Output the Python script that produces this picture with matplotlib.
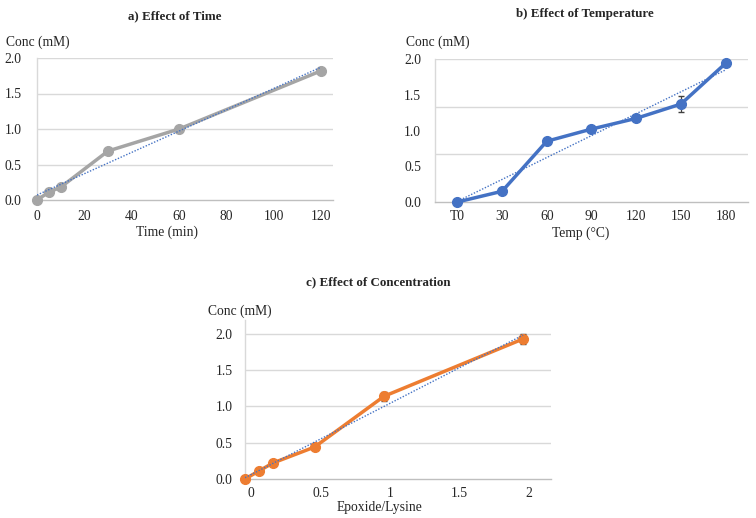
import numpy as np
import matplotlib
matplotlib.use("Agg")
import matplotlib.pyplot as plt
from matplotlib.transforms import ScaledTranslation

# ---------------- data ----------------
time_min = [0, 5, 10, 30, 60, 120]
conc_time = [0.0, 0.11, 0.18, 0.69, 1.00, 1.82]

temp_labels = ["T0", "30", "60", "90", "120", "150", "180"]
conc_temp = [0.0, 0.15, 0.85, 1.02, 1.17, 1.37, 1.94]
err_temp = [0, 0, 0, 0, 0, 0.11, 0]

ratio = [0.0, 0.1, 0.2, 0.5, 1.0, 2.0]
conc_ratio = [0.0, 0.11, 0.22, 0.44, 1.14, 1.93]
err_ratio = [0, 0, 0, 0, 0.06, 0.07]

y_ticks = [0.0, 0.5, 1.0, 1.5, 2.0]
y_ticklabels = ["0.0", "0.5", "1.0", "1.5", "2.0"]

# ---------------- style ----------------
plt.rcParams['font.family'] = ['Liberation Serif', 'DejaVu Serif']
FS = 9.8
TFS = 9.4
GRID = "#D9D9D9"
AXIS = "#BFBFBF"
GRAY = "#A5A5A5"
BLUE = "#4472C4"
ORANGE = "#ED7D31"
TXT = "#262626"

W, H = 756, 518
fig = plt.figure(figsize=(W / 100, H / 100), dpi=100)


def add_ax(left, top, right, bottom):
    return fig.add_axes([left / W, 1 - bottom / H, (right - left) / W, (bottom - top) / H])


def style(ax, ypad, xpad):
    for s in ["top", "right"]:
        ax.spines[s].set_visible(False)
    ax.spines["left"].set_color(GRID)
    ax.spines["left"].set_linewidth(1.0)
    ax.spines["bottom"].set_color(AXIS)
    ax.spines["bottom"].set_linewidth(1.0)
    ax.tick_params(length=0, labelsize=FS, colors=TXT)
    ax.tick_params(axis="x", pad=xpad)
    ax.tick_params(axis="y", pad=ypad)
    ax.set_facecolor("white")


def trend(ax, x, y, xr):
    k, b = np.polyfit(x, y, 1)
    xs = np.array(xr)
    ax.plot(xs, k * xs + b, linestyle=(0, (1, 1.2)), color=BLUE, lw=1.0, zorder=4)


def ftext(x, y, s, size=FS, **kw):
    fig.text(x / W, 1 - y / H, s, fontsize=size, color=TXT, **kw)


# ---------------- a) time ----------------
ax = add_ax(37, 58, 333, 200)
style(ax, 11, 7.5)
ax.set_xlim(0, 125)
ax.set_ylim(0, 2.0)
ax.set_xticks([0, 20, 40, 60, 80, 100, 120])
ax.set_yticks(y_ticks)
ax.set_yticklabels(y_ticklabels)
for v in [0.5, 1.0, 1.5, 2.0]:
    ax.axhline(v, color=GRID, lw=1.0, zorder=0)
ax.plot(time_min, conc_time, color=GRAY, lw=2.5, marker="o", ms=7,
        zorder=3, clip_on=False)
trend(ax, time_min, conc_time, [0, 120])

ftext(175, 16, "a) Effect of Time", size=TFS, ha="center", va="center", fontweight="bold")
ftext(6, 42, "Conc (mM)", ha="left", va="center")
ftext(167, 232, "Time (min)", ha="center", va="center")

# ---------------- b) temperature ----------------
ax = add_ax(435, 59, 748, 202)
style(ax, 10, 6)
xb = np.arange(len(temp_labels))
ax.set_xlim(-0.5, len(temp_labels) - 0.5)
ax.set_ylim(0, 2.0)
ax.set_xticks(xb)
ax.set_xticklabels(temp_labels)
ax.set_yticks(y_ticks)
ax.set_yticklabels(y_ticklabels)
for v in [2 / 3, 4 / 3, 2.0]:
    ax.axhline(v, color=GRID, lw=1.0, zorder=0)
ax.errorbar(xb, conc_temp, yerr=err_temp, color=BLUE, lw=2.5, marker="o", ms=7,
            ecolor="#404040", elinewidth=0.9, capsize=2.5, zorder=3, clip_on=False)
trend(ax, xb, conc_temp, [0, 6])

ftext(585, 14, "b) Effect of Temperature", size=TFS, ha="center", va="center", fontweight="bold")
ftext(406, 42, "Conc (mM)", ha="left", va="center")
ftext(581, 233, "Temp (°C)", ha="center", va="center")

# ---------------- c) concentration ----------------
ax = add_ax(245, 320, 551, 479)
style(ax, 9, 6)
ax.set_xlim(0, 2.2)
ax.set_ylim(0, 2.19)
ax.set_xticks([0, 0.5, 1.0, 1.5, 2.0])
ax.set_xticklabels(["0", "0.5", "1", "1.5", "2"])
off = ScaledTranslation(6 / 100, 0, fig.dpi_scale_trans)
for lab in ax.get_xticklabels():
    lab.set_transform(lab.get_transform() + off)
ax.set_yticks(y_ticks)
ax.set_yticklabels(y_ticklabels)
for v in [0.5, 1.0, 1.5, 2.0]:
    ax.axhline(v, color=GRID, lw=1.0, zorder=0)
ax.errorbar(ratio, conc_ratio, yerr=err_ratio, color=ORANGE, lw=2.5, marker="o", ms=7,
            ecolor="#404040", elinewidth=0.9, capsize=2.5, zorder=3, clip_on=False)
trend(ax, ratio, conc_ratio, [0, 2.0])

ftext(378, 282, "c) Effect of Concentration", size=TFS, ha="center", va="center", fontweight="bold")
ftext(208, 311, "Conc (mM)", ha="left", va="center")
ftext(380, 508, "Epoxide/Lysine", ha="center", va="center")

fig.savefig("out.png", dpi=100, facecolor="white")
